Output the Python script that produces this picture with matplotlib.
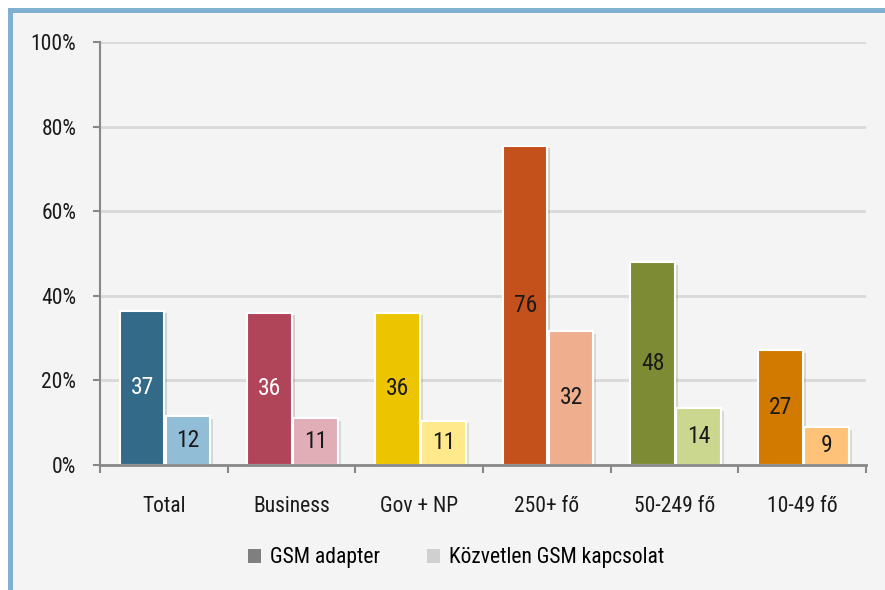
import matplotlib.pyplot as plt
import matplotlib.patheffects as pe
from matplotlib import font_manager
from matplotlib.patches import Patch, Rectangle
from matplotlib.lines import Line2D
import numpy as np

installed = {f.name for f in font_manager.fontManager.ttflist}
main_font = next((f for f in ['Liberation Sans Narrow', 'Roboto Condensed', 'Open Sans Condensed',
                              'Liberation Sans'] if f in installed), 'DejaVu Sans')
plt.rcParams['font.family'] = [main_font, 'DejaVu Sans']

# data
categories = ['Total', 'Business', 'Gov + NP', '250+ fő', '50-249 fő', '10-49 fő']
gsm_adapter = [36.5, 36.0, 36.0, 75.5, 48.0, 27.2]
kozvetlen = [11.5, 11.0, 10.5, 31.7, 13.5, 9.0]
adapter_labels = ['37', '36', '36', '76', '48', '27']
kozvetlen_labels = ['12', '11', '11', '32', '14', '9']
dark_colors = ['#336a87', '#b04458', '#ecc400', '#c4501c', '#7d8c34', '#d27a00']
light_colors = ['#92bdd6', '#e1aeb8', '#ffe98a', '#efae8e', '#cbd78f', '#fec378']
dark_text = ['white', 'white', '#1a1a1a', '#1a1a1a', '#1a1a1a', '#1a1a1a']

fig = plt.figure(figsize=(8.85, 5.9), dpi=100, facecolor='white')

# panel background and blue frame
fig.patches.append(Rectangle((10 / 885, 0), 1, 1 - 10 / 590, transform=fig.transFigure,
                             facecolor='#f4f4f4', edgecolor='none', zorder=-10))
fig.lines.append(Line2D([10 / 885, 1], [1 - 10 / 590, 1 - 10 / 590], transform=fig.transFigure,
                        color='#80b0d0', linewidth=3.6, zorder=-5))
fig.lines.append(Line2D([10 / 885, 10 / 885], [0, 1 - 10 / 590], transform=fig.transFigure,
                        color='#80b0d0', linewidth=3.6, zorder=-5))
# bit of the title showing above the frame
fig.text(587 / 885, 1 + 11 / 590, 'y', color='#2e6aa0', fontsize=20, fontweight='bold',
         ha='center', va='baseline', fontstyle='italic')

ax = fig.add_axes([100 / 885, 1 - 465 / 590, 766 / 885, 423 / 590])
ax.set_facecolor('none')

x = np.arange(len(categories)) + 0.5
w = 0.35
shadow = [pe.SimplePatchShadow(offset=(2, -2), alpha=0.18, rho=0.5), pe.Normal()]

b1 = ax.bar(x - 0.17, gsm_adapter, w, color=dark_colors, edgecolor='white', linewidth=1.5, zorder=3)
b2 = ax.bar(x + 0.19, kozvetlen, w, color=light_colors, edgecolor='white', linewidth=1.5, zorder=3)
for b in list(b1) + list(b2):
    b.set_path_effects(shadow)

for i in range(len(categories)):
    ax.text(x[i] - 0.17, gsm_adapter[i] / 2, adapter_labels[i], ha='center', va='center',
            fontsize=17, color=dark_text[i], zorder=4)
    ax.text(x[i] + 0.19, kozvetlen[i] / 2, kozvetlen_labels[i], ha='center', va='center',
            fontsize=17, color='#1a1a1a', zorder=4, clip_on=True)

ax.set_xlim(0, 6)
ax.set_ylim(0, 100)
ax.set_yticks(range(0, 101, 20))
ax.set_yticklabels([f'{v}%' for v in range(0, 101, 20)], fontsize=15.5, color='#1a1a1a')
ax.yaxis.grid(True, color='#d9d9d9', linewidth=2)
ax.set_axisbelow(True)

ax.set_xticks(range(0, 7))
ax.set_xticklabels([])
ax.set_xticks(x, minor=True)
ax.set_xticklabels(categories, minor=True, fontsize=15.5, color='#1a1a1a')
ax.tick_params(axis='x', which='minor', length=0, pad=22)
ax.tick_params(axis='x', which='major', length=6, color='#888888', width=1.5)
ax.tick_params(axis='y', length=5, color='#888888', width=1.5, pad=12)

for s in ['top', 'right']:
    ax.spines[s].set_visible(False)
ax.spines['left'].set_color('#888888')
ax.spines['bottom'].set_color('#888888')
ax.spines['left'].set_linewidth(1.5)
ax.spines['bottom'].set_linewidth(2)
ax.spines['bottom'].set_zorder(5)

handles = [Patch(facecolor='#7f7f7f'), Patch(facecolor='#d0d0d0')]
fig.legend(handles, ['GSM adapter', 'Közvetlen GSM kapcsolat'], loc='center',
           bbox_to_anchor=(456 / 885, 1 - 558 / 590), ncol=2, frameon=False, fontsize=15.5,
           handlelength=0.6, handleheight=0.6, handletextpad=0.4, columnspacing=2.2)

fig.savefig('out.png', dpi=100, facecolor=fig.get_facecolor())
